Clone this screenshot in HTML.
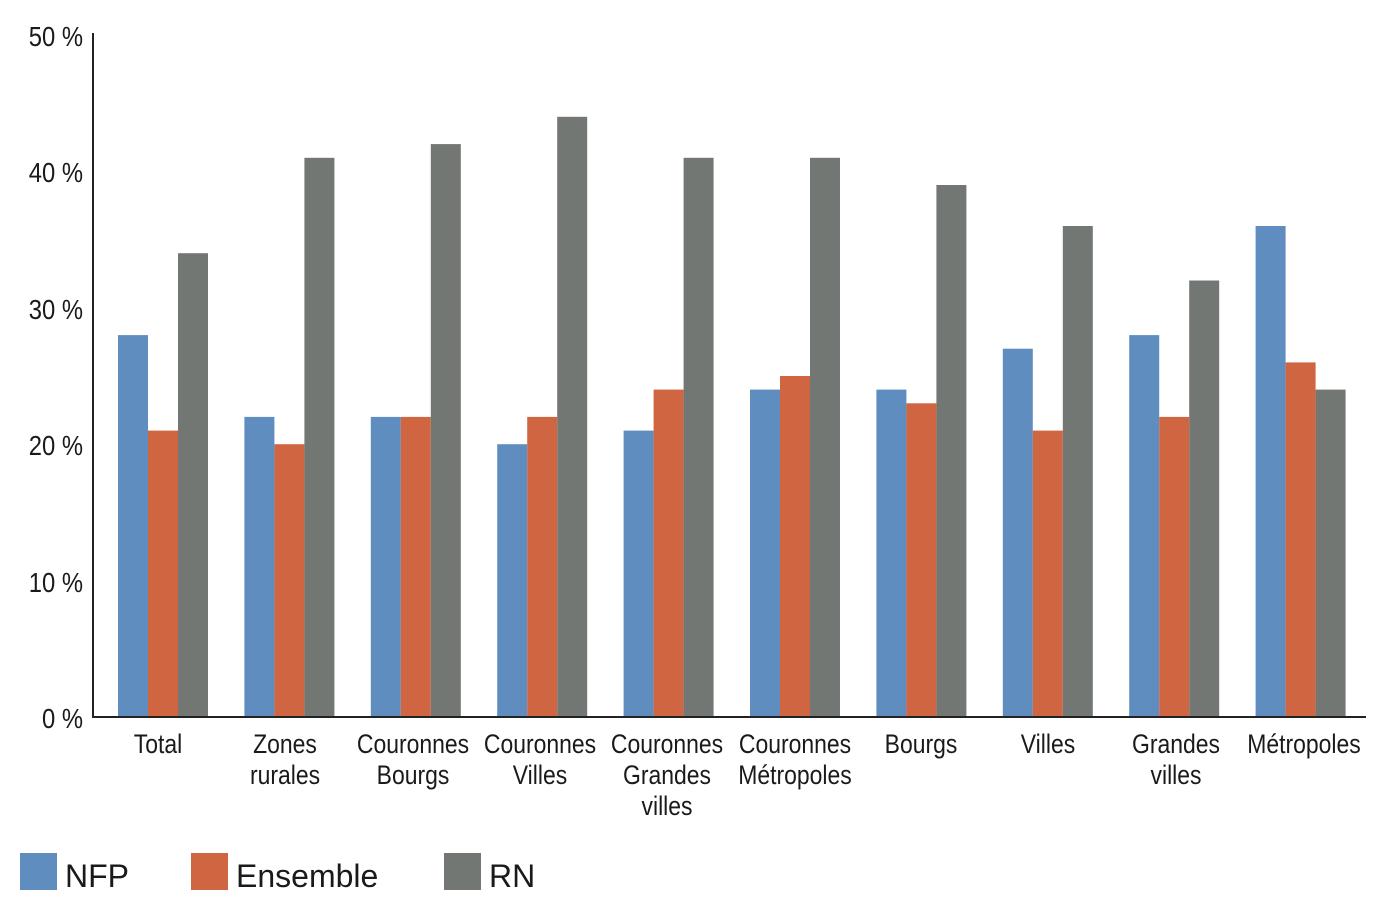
<!DOCTYPE html>
<html><head><meta charset="utf-8"><style>
html,body{margin:0;padding:0;background:#fff;}
svg{display:block;}
text{font-family:"Liberation Sans",sans-serif;fill:#1a1a1a;}
</style></head><body>
<svg width="1386" height="914" viewBox="0 0 1386 914" xmlns="http://www.w3.org/2000/svg">
<g>
<rect x="118" y="335.1" width="30" height="381.9" fill="#5f8dbf"/>
<rect x="148" y="430.6" width="30" height="286.4" fill="#d06541"/>
<rect x="178" y="253.2" width="30" height="463.8" fill="#737773"/>
<rect x="244.4" y="416.9" width="30" height="300.1" fill="#5f8dbf"/>
<rect x="274.4" y="444.2" width="30" height="272.8" fill="#d06541"/>
<rect x="304.4" y="157.8" width="30" height="559.2" fill="#737773"/>
<rect x="370.8" y="416.9" width="30" height="300.1" fill="#5f8dbf"/>
<rect x="400.8" y="416.9" width="30" height="300.1" fill="#d06541"/>
<rect x="430.8" y="144.1" width="30" height="572.9" fill="#737773"/>
<rect x="497.2" y="444.2" width="30" height="272.8" fill="#5f8dbf"/>
<rect x="527.2" y="416.9" width="30" height="300.1" fill="#d06541"/>
<rect x="557.2" y="116.8" width="30" height="600.2" fill="#737773"/>
<rect x="623.6" y="430.6" width="30" height="286.4" fill="#5f8dbf"/>
<rect x="653.6" y="389.6" width="30" height="327.4" fill="#d06541"/>
<rect x="683.6" y="157.8" width="30" height="559.2" fill="#737773"/>
<rect x="750" y="389.6" width="30" height="327.4" fill="#5f8dbf"/>
<rect x="780" y="376" width="30" height="341" fill="#d06541"/>
<rect x="810" y="157.8" width="30" height="559.2" fill="#737773"/>
<rect x="876.4" y="389.6" width="30" height="327.4" fill="#5f8dbf"/>
<rect x="906.4" y="403.3" width="30" height="313.7" fill="#d06541"/>
<rect x="936.4" y="185" width="30" height="532" fill="#737773"/>
<rect x="1002.8" y="348.7" width="30" height="368.3" fill="#5f8dbf"/>
<rect x="1032.8" y="430.6" width="30" height="286.4" fill="#d06541"/>
<rect x="1062.8" y="226" width="30" height="491" fill="#737773"/>
<rect x="1129.2" y="335.1" width="30" height="381.9" fill="#5f8dbf"/>
<rect x="1159.2" y="416.9" width="30" height="300.1" fill="#d06541"/>
<rect x="1189.2" y="280.5" width="30" height="436.5" fill="#737773"/>
<rect x="1255.6" y="226" width="30" height="491" fill="#5f8dbf"/>
<rect x="1285.6" y="362.4" width="30" height="354.6" fill="#d06541"/>
<rect x="1315.6" y="389.6" width="30" height="327.4" fill="#737773"/>
</g>
<line x1="93" y1="33" x2="93" y2="718" stroke="#222" stroke-width="2"/>
<line x1="92" y1="717" x2="1366" y2="717" stroke="#222" stroke-width="2"/>
<g font-size="28" text-anchor="end">
<text transform="translate(83,46) scale(0.85,1)">50 %</text>
<text transform="translate(83,182) scale(0.85,1)">40 %</text>
<text transform="translate(83,319) scale(0.85,1)">30 %</text>
<text transform="translate(83,455) scale(0.85,1)">20 %</text>
<text transform="translate(83,592) scale(0.85,1)">10 %</text>
<text transform="translate(83,728) scale(0.85,1)">0 %</text>
</g>
<g font-size="27" text-anchor="middle">
<text transform="translate(158,753) scale(0.85,1)">Total</text>
<text transform="translate(285,753) scale(0.85,1)">Zones</text><text transform="translate(285,784) scale(0.85,1)">rurales</text>
<text transform="translate(413,753) scale(0.85,1)">Couronnes</text><text transform="translate(413,784) scale(0.85,1)">Bourgs</text>
<text transform="translate(540,753) scale(0.85,1)">Couronnes</text><text transform="translate(540,784) scale(0.85,1)">Villes</text>
<text transform="translate(667,753) scale(0.85,1)">Couronnes</text><text transform="translate(667,784) scale(0.85,1)">Grandes</text><text transform="translate(667,815) scale(0.85,1)">villes</text>
<text transform="translate(795,753) scale(0.85,1)">Couronnes</text><text transform="translate(795,784) scale(0.85,1)">Métropoles</text>
<text transform="translate(921,753) scale(0.85,1)">Bourgs</text>
<text transform="translate(1048,753) scale(0.85,1)">Villes</text>
<text transform="translate(1176,753) scale(0.85,1)">Grandes</text><text transform="translate(1176,784) scale(0.85,1)">villes</text>
<text transform="translate(1304,753) scale(0.85,1)">Métropoles</text>
</g>
<rect x="20" y="853" width="37" height="37" fill="#5f8dbf"/>
<text x="65" y="887" font-size="32">NFP</text>
<rect x="191" y="853" width="37" height="37" fill="#d06541"/>
<text x="236" y="887" font-size="32">Ensemble</text>
<rect x="444" y="853" width="37" height="37" fill="#737773"/>
<text x="489" y="887" font-size="32">RN</text>
</svg>
</body></html>
